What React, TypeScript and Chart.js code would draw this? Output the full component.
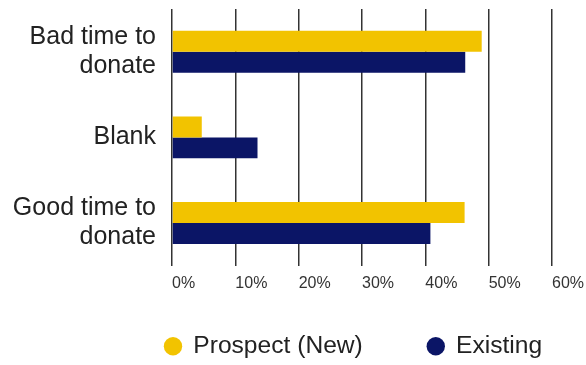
import React, { useEffect, useRef } from "react";
import { Chart, registerables } from "chart.js";

Chart.register(...registerables);

const categories: (string | string[])[] = [
  ["Bad time to", "donate"],
  "Blank",
  ["Good time to", "donate"],
];
const prospectValues = [48.9, 4.7, 46.2];
const existingValues = [46.3, 13.5, 40.8];
const seriesNames = ["Prospect (New)", "Existing"];
const tickMax = 60;
const tickStep = 10;

const FONT = "'Liberation Sans', Arial, Helvetica, sans-serif";
const LEGEND_GAP = 65;

const legendPlacer = {
  id: "legendPlacer",
  afterLayout(chart: any) {
    const lg = chart.legend;
    if (!lg) return;
    lg.left = 165 - LEGEND_GAP;
    lg.right = 1000;
    lg.top = 334 - LEGEND_GAP;
  },
};

export default function App() {
  const ref = useRef<HTMLCanvasElement | null>(null);

  useEffect(() => {
    document.body.style.margin = "0";
    const canvas = ref.current;
    if (!canvas) return;
    const chart = new Chart(canvas, {
      type: "bar",
      data: {
        labels: categories,
        datasets: [
          {
            label: seriesNames[0],
            data: prospectValues,
            backgroundColor: "#F2C300",
            borderWidth: 0,
            categoryPercentage: 0.49,
            barPercentage: 1,
          },
          {
            label: seriesNames[1],
            data: existingValues,
            backgroundColor: "#0B1566",
            borderWidth: 0,
            categoryPercentage: 0.49,
            barPercentage: 1,
          },
        ],
      },
      plugins: [legendPlacer],
      options: {
        indexAxis: "y",
        animation: false,
        responsive: false,
        maintainAspectRatio: false,
        layout: { padding: { top: 9, right: 34, left: 0, bottom: 0 } },
        scales: {
          x: {
            min: 0,
            max: tickMax,
            border: { display: false },
            grid: { color: "#333333", lineWidth: 1.5, drawTicks: false },
            ticks: {
              stepSize: tickStep,
              padding: 8,
              align: "start",
              color: "#333333",
              font: { family: FONT, size: 16 },
              callback: (v: any) => v + "%",
            },
            afterFit: (scale: any) => {
              scale.paddingLeft = 0;
              scale.paddingRight = 0;
            },
          },
          y: {
            border: { display: false },
            grid: { display: false, drawTicks: false },
            ticks: {
              padding: 16,
              color: "#222222",
              font: { family: FONT, size: 25, lineHeight: 1.16 },
            },
            afterFit: (scale: any) => {
              scale.width = 172;
              scale.paddingTop = 0;
              scale.paddingBottom = 0;
            },
          },
        },
        plugins: {
          tooltip: { enabled: false },
          legend: {
            position: "bottom",
            align: "start",
            fullSize: true,
            maxHeight: 64,
            labels: {
              usePointStyle: true,
              pointStyle: "circle",
              boxWidth: 16,
              boxHeight: 13,
              padding: LEGEND_GAP,
              color: "#222222",
              font: { family: FONT, size: 24.6 },
            },
          },
        },
      },
    });
    return () => chart.destroy();
  }, []);

  return (
    <div style={{ position: "fixed", left: 0, top: 0, width: 586, height: 365, background: "#fff" }}>
      <canvas ref={ref} width={586} height={365} style={{ width: 586, height: 365 }} />
    </div>
  );
}
